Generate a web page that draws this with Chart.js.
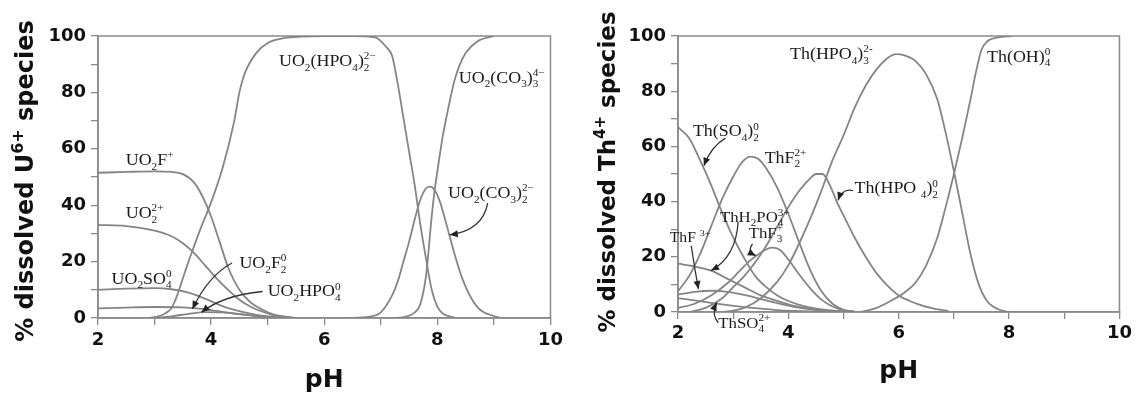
<!DOCTYPE html>
<html>
<head>
<meta charset="utf-8">
<script src="https://cdn.jsdelivr.net/npm/chart.js@4.4.1/dist/chart.umd.min.js"></script>
<style>
  html, body { margin: 0; padding: 0; background: #fff; }
  #wrap { position: relative; width: 1136px; height: 394px; }
  .panel { position: absolute; top: 0; width: 568px; height: 394px; }
</style>
</head>
<body>
<div id="wrap">
  <div class="panel" style="left:0"><canvas id="uChart" width="568" height="394"></canvas></div>
  <div class="panel" style="left:568px"><canvas id="thChart" width="568" height="394"></canvas></div>
</div>
<script>
// ---- U(VI) panel: pH and % dissolved ----
const uo2fPH = [2, 2.5, 3, 3.3, 3.5, 3.7, 3.85, 4.0, 4.15, 4.3, 4.5, 4.7, 4.9, 5.1, 5.45];
const uo2fPct = [51.5, 51.8, 52, 51.8, 51, 48, 43, 36, 27, 18, 10, 5.5, 3, 1.3, 0.1];
const uo2PH = [2, 2.5, 3, 3.3, 3.5, 3.7, 3.9, 4.1, 4.3, 4.5, 4.7, 4.9, 5.1, 5.45];
const uo2Pct = [33, 32.6, 31, 29, 26.5, 23, 18.5, 14, 10, 6.5, 4, 2.3, 1, 0.1];
const uo2so4PH = [2, 2.5, 3, 3.3, 3.6, 3.9, 4.2, 4.5, 4.8, 5.1, 5.45];
const uo2so4Pct = [10, 10.4, 10.6, 10.2, 9, 6.8, 4.2, 2.4, 1.1, 0.4, 0.05];
const uo2f2PH = [2, 2.5, 3, 3.5, 3.8, 4.1, 4.4, 4.7, 5.0, 5.4];
const uo2f2Pct = [3.4, 3.7, 3.9, 3.8, 3.3, 2.5, 1.6, 0.9, 0.4, 0.05];
const uo2hpo4PH = [3, 3.3, 3.6, 3.9, 4.2, 4.5, 4.8, 5.1, 5.4];
const uo2hpo4Pct = [0.1, 0.6, 1.5, 2.1, 2.0, 1.4, 0.7, 0.2, 0.05];
const uo2hpo42PH = [2.9, 3.0, 3.1, 3.2, 3.3, 3.4, 3.5, 3.6, 3.7, 3.8, 4.0, 4.2, 4.4, 4.5, 4.6, 4.8, 5.0, 5.3, 5.6, 6.0, 6.5, 6.9, 7.1, 7.2, 7.3, 7.4, 7.5, 7.6, 7.7, 7.8, 7.9, 8.0, 8.1, 8.3];
const uo2hpo42Pct = [0, 0.3, 0.8, 1.8, 3.5, 8, 14, 20, 25.5, 31, 41, 53, 69, 80, 87, 94, 97.5, 99.3, 99.8, 100, 100, 99.5, 96, 93, 83, 71, 59, 47, 33, 21, 10, 4, 1.5, 0.2];
const uo2co32PH = [6.4, 6.8, 7.0, 7.2, 7.3, 7.4, 7.5, 7.6, 7.7, 7.8, 7.87, 7.95, 8.05, 8.15, 8.3, 8.45, 8.6, 8.75, 9.0, 9.1];
const uo2co32Pct = [0, 0.5, 2, 8, 13, 20, 27, 35, 42, 46, 46.6, 45.5, 41, 34, 23, 13.5, 7, 3, 0.7, 0.2];
const uo2co33PH = [7.2, 7.4, 7.6, 7.7, 7.8, 7.9, 7.95, 8.0, 8.1, 8.2, 8.3, 8.4, 8.5, 8.7, 9.0];
const uo2co33Pct = [0, 0.3, 2, 5, 15, 36, 45, 52, 65, 75, 84, 90, 94, 98, 100];

// ---- Th(IV) panel ----
const thso42PH = [2.0, 2.2, 2.4, 2.6, 2.8, 3.0, 3.2, 3.4, 3.6, 3.8, 4.0, 4.3, 4.6, 5.0];
const thso42Pct = [67, 63, 55, 46, 36, 27, 19.5, 13, 9, 6, 4, 2, 0.9, 0.2];
const thf2PH = [2.0, 2.2, 2.4, 2.6, 2.8, 3.0, 3.15, 3.3, 3.45, 3.6, 3.8, 4.0, 4.2, 4.4, 4.6, 4.8, 5.0, 5.2];
const thf2Pct = [7.5, 13, 21, 31, 41, 49, 54, 56.3, 55.5, 52, 45, 35.5, 25, 15, 7.5, 3, 0.8, 0.1];
const thh2po4PH = [2.0, 2.3, 2.6, 2.9, 3.2, 3.5, 3.8, 4.1, 4.4, 4.8, 5.1];
const thh2po4Pct = [17.5, 16.5, 15, 12, 9, 6, 4, 2.2, 1.2, 0.3, 0.05];
const thfPH = [2.0, 2.3, 2.6, 2.9, 3.2, 3.5, 3.8, 4.1, 4.4, 4.7, 5.0];
const thfPct = [6.3, 7.3, 7.7, 7.3, 6.2, 4.7, 3.2, 1.9, 1.0, 0.4, 0.1];
const thso4PH = [2.0, 2.3, 2.6, 2.9, 3.2, 3.5, 3.8, 4.1, 4.4, 4.8];
const thso4Pct = [5, 4.2, 3.3, 2.5, 1.8, 1.2, 0.7, 0.4, 0.2, 0.05];
const thf3PH = [2.0, 2.3, 2.6, 2.9, 3.1, 3.3, 3.5, 3.7, 3.85, 4.0, 4.2, 4.4, 4.6, 4.8, 5.0, 5.2];
const thf3Pct = [1.5, 3, 6, 10.5, 14.5, 18.5, 21.5, 23.3, 22.5, 19, 13.5, 8.5, 4.5, 2, 0.7, 0.1];
const thhpo42PH = [2.2, 2.5, 2.8, 3.0, 3.2, 3.4, 3.6, 3.8, 4.0, 4.2, 4.4, 4.5, 4.62, 4.75, 4.9, 5.0, 5.2, 5.4, 5.6, 5.8, 6.0, 6.2, 6.4, 6.6, 6.9];
const thhpo42Pct = [0, 1.5, 5, 9, 13, 18, 24, 31, 38, 44, 48.5, 50, 50, 46, 39, 35, 27, 20, 14, 9.5, 6, 4, 2.5, 1.4, 0.3];
const thhpo43PH = [2.8, 3.0, 3.2, 3.5, 3.8, 4.0, 4.2, 4.4, 4.6, 4.8, 5.0, 5.2, 5.4, 5.6, 5.8, 5.95, 6.1, 6.3, 6.5, 6.7, 6.85, 7.0, 7.15, 7.3, 7.45, 7.6, 7.8, 8.0];
const thhpo43Pct = [0, 0.5, 1.5, 5, 11, 17, 25, 34, 44, 55, 64, 74, 82, 88, 92, 93.4, 93, 91, 86, 77, 65, 51, 36, 21, 10, 4, 1, 0];
const thoh4PH = [5.3, 5.6, 5.9, 6.1, 6.3, 6.5, 6.7, 6.85, 7.0, 7.15, 7.3, 7.4, 7.5, 7.6, 7.8, 8.05];
const thoh4Pct = [0, 1.5, 4.5, 7, 10.5, 17, 27, 38, 50, 63, 77, 87, 95, 98, 99.5, 100];

// species labels: [text, left pH, baseline %, font size]
const uLabels = [
  ['UO_2(HPO_4)_2^{2−}', 5.2, 89.3, 16],
  ['UO_2(CO_3)_3^{4−}', 8.38, 83.4, 16],
  ['UO_2(CO_3)_2^{2−}', 8.19, 42.5, 16],
  ['UO_2F^+', 2.49, 54.2, 16],
  ['UO_2^{2+}', 2.49, 35.4, 16],
  ['UO_2SO_4^0', 2.24, 12.1, 16],
  ['UO_2F_2^0', 4.5, 17.7, 16],
  ['UO_2HPO_4^0', 5.0, 7.7, 16]
];
// arrows: [from pH, from %, bend pH, bend %, tip pH, tip %]
const uArrows = [
  [4.37, 19.5, 3.95, 15, 3.67, 3.2],
  [4.91, 9.4, 4.2, 8, 3.83, 2.0],
  [8.89, 40.7, 8.8, 31, 8.22, 29.5]
];
const thLabels = [
  ['Th(SO_4)_2^0', 2.27, 63.6, 16],
  ['ThF_2^{2+}', 3.57, 54.1, 16],
  ['Th(HPO_4)_3^{2-}', 4.03, 91.6, 16],
  ['Th(OH)_4^0', 7.6, 90.6, 16],
  ['Th(HPO _4)_2^0', 5.2, 43, 16],
  ['ThH_2PO_4^{3+}', 2.76, 32.6, 15],
  ['ThF ^{3+}', 1.85, 25.3, 14],
  ['ThF_3^+', 3.28, 26.9, 15],
  ['ThSO_4^{2+}', 2.73, -5.7, 15]
];
const thArrows = [
  [2.86, 63, 2.6, 60, 2.47, 53],
  [5.17, 44, 4.98, 45, 4.9, 40.5],
  [3.09, 32.6, 3.05, 20, 2.6, 15],
  [2.24, 24, 2.3, 16, 2.37, 8.3],
  [3.35, 24.7, 3.25, 22, 3.41, 20.4],
  [2.73, -3.9, 2.6, -1, 2.7, 3.4]
];

const curveColor = '#858585';
const frameColor = '#8a8a8a';
const textColor = '#1a1a1a';
const serif = '"Liberation Serif", "Times New Roman", serif';
const sans = '"DejaVu Sans", sans-serif';

function pts(xs, ys) {
  return xs.map((x, i) => ({ x: x, y: ys[i] }));
}

function parseRich(str) {
  const out = [];
  let i = 0;
  while (i < str.length) {
    const c = str[i];
    if (c === '_' || c === '^') {
      let t;
      if (str[i + 1] === '{') {
        const j = str.indexOf('}', i);
        t = str.slice(i + 2, j);
        i = j + 1;
      } else {
        t = str[i + 1];
        i += 2;
      }
      out.push({ t: t, k: c === '_' ? 'sub' : 'sup' });
    } else {
      const last = out[out.length - 1];
      if (last && last.k === 'n') last.t += c;
      else out.push({ t: c, k: 'n' });
      i++;
    }
  }
  return out;
}

// draws (or only measures) text with sub/superscripts, returns width
function rich(ctx, str, x, y, size, family, weight, draw) {
  const parts = parseRich(str);
  const small = Math.round(size * 0.65);
  let cx = x;
  for (let i = 0; i < parts.length; i++) {
    const p = parts[i];
    if (p.k === 'n') {
      ctx.font = weight + ' ' + size + 'px ' + family;
      if (draw) ctx.fillText(p.t, cx, y);
      cx += ctx.measureText(p.t).width;
    } else {
      ctx.font = weight + ' ' + small + 'px ' + family;
      let w = 0;
      const one = (s) => {
        if (draw) ctx.fillText(s.t, cx, y + (s.k === 'sub' ? size * 0.28 : -size * 0.42));
        w = Math.max(w, ctx.measureText(s.t).width);
      };
      one(p);
      const q = parts[i + 1];
      if (q && q.k !== 'n' && q.k !== p.k) { one(q); i++; }
      cx += w;
    }
  }
  return cx - x;
}

const notesPlugin = {
  id: 'notes',
  beforeDatasetsDraw(chart, args, opts) {
    const a = chart.chartArea, ctx = chart.ctx;
    ctx.save();
    ctx.strokeStyle = frameColor;
    ctx.lineWidth = 1.5;
    ctx.strokeRect(a.left, a.top, a.right - a.left, a.bottom - a.top);
    ctx.restore();
  },
  afterDraw(chart, args, opts) {
    const ctx = chart.ctx, sx = chart.scales.x, sy = chart.scales.y;
    const a = chart.chartArea;
    ctx.save();
    ctx.fillStyle = textColor;
    ctx.textBaseline = 'alphabetic';
    ctx.textAlign = 'left';
    opts.labels.forEach(l => {
      ctx.save();
      ctx.translate(sx.getPixelForValue(l[1]), sy.getPixelForValue(l[2]));
      ctx.scale(1.12, 1); // the source figure is slightly stretched sideways
      rich(ctx, l[0], 0, 0, l[3], serif, 'normal', true);
      ctx.restore();
    });
    ctx.strokeStyle = '#333';
    ctx.fillStyle = '#222';
    ctx.lineWidth = 1.3;
    opts.arrows.forEach(r => {
      const x0 = sx.getPixelForValue(r[0]), y0 = sy.getPixelForValue(r[1]);
      const cx = sx.getPixelForValue(r[2]), cy = sy.getPixelForValue(r[3]);
      const x1 = sx.getPixelForValue(r[4]), y1 = sy.getPixelForValue(r[5]);
      ctx.beginPath();
      ctx.moveTo(x0, y0);
      ctx.quadraticCurveTo(cx, cy, x1, y1);
      ctx.stroke();
      const ang = Math.atan2(y1 - cy, x1 - cx);
      ctx.beginPath();
      ctx.moveTo(x1, y1);
      ctx.lineTo(x1 - 8 * Math.cos(ang) + 3.5 * Math.sin(ang), y1 - 8 * Math.sin(ang) - 3.5 * Math.cos(ang));
      ctx.lineTo(x1 - 8 * Math.cos(ang) - 3.5 * Math.sin(ang), y1 - 8 * Math.sin(ang) + 3.5 * Math.cos(ang));
      ctx.closePath();
      ctx.fill();
    });
    // axis titles
    ctx.fillStyle = '#111';
    const ts = opts.yTitleSize;
    const w = rich(ctx, opts.yTitle, 0, 0, ts, sans, 'bold', false);
    ctx.save();
    ctx.translate(opts.yTitleX, opts.yTitleY);
    ctx.rotate(-Math.PI / 2);
    rich(ctx, opts.yTitle, -w / 2, 0, ts, sans, 'bold', true);
    ctx.restore();
    ctx.font = 'bold 25px ' + sans;
    ctx.textAlign = 'center';
    ctx.fillText('pH', (a.left + a.right) / 2, opts.xTitleY);
    ctx.restore();
  }
};

function line(xs, ys) {
  return { data: pts(xs, ys), borderColor: curveColor, borderWidth: 1.8, pointRadius: 0, cubicInterpolationMode: 'monotone', fill: false };
}

function makeOptions(xHeight, padRight, yWidth, tickPad, notes) {
  const tickFont = { family: sans, size: 18, weight: 'bold' };
  return {
    responsive: false,
    animation: false,
    events: [],
    layout: { padding: { top: 36, right: padRight, left: 0, bottom: 0 } },
    plugins: { legend: { display: false }, tooltip: { enabled: false }, notes: notes },
    scales: {
      x: {
        type: 'linear', min: 2, max: 10,
        afterFit: s => { s.height = xHeight; },
        ticks: { stepSize: 1, autoSkip: false, maxRotation: 0, padding: tickPad, color: '#111', font: tickFont,
                 callback: v => (v % 2 === 0 ? v : '') },
        grid: { drawOnChartArea: false, tickLength: 7, color: frameColor, lineWidth: 1.3 },
        border: { color: frameColor, width: 1.5 }
      },
      y: {
        min: 0, max: 100,
        afterFit: s => { s.width = yWidth; },
        ticks: { stepSize: 10, autoSkip: false, padding: 5, color: '#111', font: tickFont,
                 callback: v => (v % 20 === 0 ? v : '') },
        grid: { drawOnChartArea: false, tickLength: 7, color: frameColor, lineWidth: 1.3 },
        border: { color: frameColor, width: 1.5 }
      }
    }
  };
}

new Chart(document.getElementById('uChart').getContext('2d'), {
  type: 'line',
  data: {
    datasets: [
      line(uo2fPH, uo2fPct),
      line(uo2PH, uo2Pct),
      line(uo2so4PH, uo2so4Pct),
      line(uo2f2PH, uo2f2Pct),
      line(uo2hpo4PH, uo2hpo4Pct),
      line(uo2hpo42PH, uo2hpo42Pct),
      line(uo2co32PH, uo2co32Pct),
      line(uo2co33PH, uo2co33Pct)
    ]
  },
  options: makeOptions(76, 15, 98, 5, {
    labels: uLabels, arrows: uArrows,
    yTitle: '% dissolved U^{6+} species', yTitleSize: 24, yTitleX: 33, yTitleY: 181, xTitleY: 387
  }),
  plugins: [notesPlugin]
});

new Chart(document.getElementById('thChart').getContext('2d'), {
  type: 'line',
  data: {
    datasets: [
      line(thso42PH, thso42Pct),
      line(thf2PH, thf2Pct),
      line(thh2po4PH, thh2po4Pct),
      line(thfPH, thfPct),
      line(thso4PH, thso4Pct),
      line(thf3PH, thf3Pct),
      line(thhpo42PH, thhpo42Pct),
      line(thhpo43PH, thhpo43Pct),
      line(thoh4PH, thoh4Pct)
    ]
  },
  options: makeOptions(82, 14, 110, 4, {
    labels: thLabels, arrows: thArrows,
    yTitle: '% dissolved Th^{4+} species', yTitleSize: 23, yTitleX: 47, yTitleY: 172, xTitleY: 378
  }),
  plugins: [notesPlugin]
});
</script>
</body>
</html>
